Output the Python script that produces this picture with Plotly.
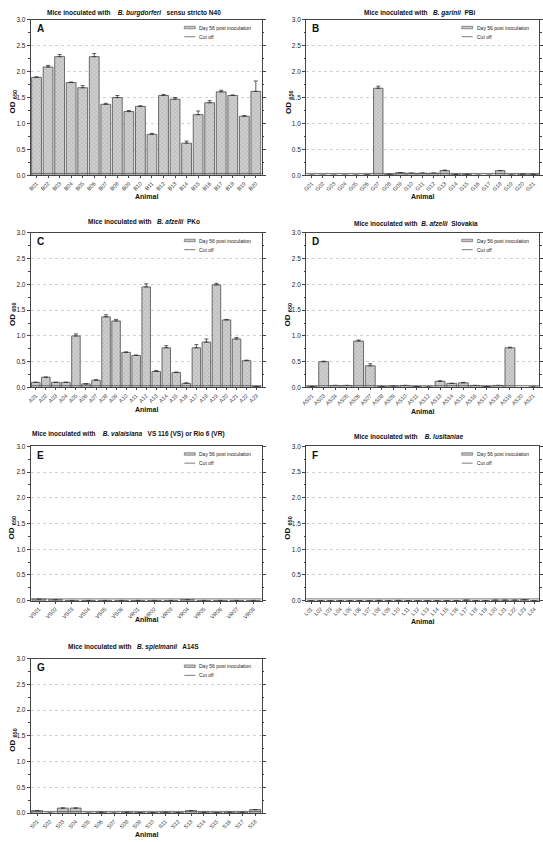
import plotly.graph_objects as go

W, H = 543, 842
FONT = "Arial, Liberation Sans, sans-serif"

# ---------------- data ----------------
labels_A = ["B01","B02","B03","B04","B05","B06","B07","B08","B09","B10",
            "B11","B12","B13","B14","B15","B16","B17","B18","B19","B20"]
values_A = [1.89,2.09,2.29,1.79,1.69,2.29,1.37,1.50,1.23,1.33,
            0.79,1.54,1.47,0.62,1.17,1.40,1.61,1.54,1.14,1.62]
errors_A = [0.01,0.03,0.04,0.01,0.04,0.06,0.02,0.04,0.02,0.01,
            0.02,0.02,0.03,0.04,0.07,0.04,0.03,0.01,0.01,0.20]

labels_B = ["G01","G02","G03","G04","G05","G06","G07","G08","G09","G10","G11",
            "G12","G13","G14","G15","G16","G17","G18","G19","G20","G21"]
values_B = [0.0,0.0,0.0,0.0,0.0,0.005,1.68,0.02,0.05,0.04,0.04,
            0.04,0.09,0.02,0.02,0.0,0.0,0.09,0.005,0.02,0.02]
errors_B = [0,0,0,0,0,0,0.04,0,0,0,0,
            0,0.01,0,0,0,0,0,0,0.01,0]

labels_C = ["A01","A02","A03","A04","A05","A06","A07","A08","A09","A10","A11","A12",
            "A13","A14","A15","A16","A17","A18","A19","A20","A21","A22","A23"]
values_C = [0.10,0.20,0.10,0.10,1.00,0.07,0.14,1.37,1.29,0.68,0.62,1.95,
            0.31,0.77,0.29,0.08,0.77,0.88,1.99,1.31,0.94,0.52,0.02]
errors_C = [0,0,0,0,0.04,0,0.01,0.04,0.03,0.01,0.01,0.06,
            0.02,0.04,0.01,0.01,0.06,0.06,0.03,0.01,0.03,0.01,0]

labels_D = ["AS01","AS03","AS04","AS05","AS06","AS07","AS08","AS09","AS10","AS11",
            "AS12","AS13","AS14","AS15","AS16","AS17","AS18","AS19","AS20","AS21"]
values_D = [0.02,0.50,0.04,0.04,0.90,0.42,0.02,0.03,0.04,0.02,
            0.01,0.12,0.08,0.09,0.04,0.02,0.04,0.77,0.0,0.01]
errors_D = [0,0.01,0,0,0.02,0.04,0,0,0,0,
            0,0.01,0,0.01,0,0,0,0.01,0,0]

labels_E = ["VS01","VS02","VS03","VS04","VS05","VS06","VR01",
            "VR02","VR03","VR04","VR05","VR06","VR07","VR08"]
values_E = [0.03,0.02,0.005,0.005,0.005,0.005,0.005,
            0.005,0.005,0.02,0.005,0.005,0.005,0.005]
errors_E = [0]*14

labels_F = ["L01","L02","L03","L04","L05","L06","L07","L08","L09","L10","L11","L12",
            "L13","L14","L15","L16","L17","L18","L19","L20","L21","L22","L23","L24"]
values_F = [0,0,0,0,0,0,0,0.005,0,0.005,0,0,
            0,0,0,0,0.01,0,0,0.01,0.01,0.01,0.02,0]
errors_F = [0]*24

labels_G = ["S01","S02","S03","S04","S05","S06","S07","S08","S09",
            "S10","S11","S12","S13","S14","S15","S16","S17","S18"]
values_G = [0.05,0.0,0.10,0.10,0.0,0.02,0.0,0.02,0.01,
            0.01,0.02,0.01,0.05,0.02,0.01,0.02,0.02,0.07]
errors_G = [0]*18

cutoffs = [0.035,0.035,0.035,0.035,0.035,0.035,0.035]

titles = [
    "Mice inoculated with&nbsp;&nbsp;&nbsp; <i>B. burgdorferi</i>&nbsp;&nbsp; sensu stricto N40",
    "Mice inoculated with&nbsp;&nbsp; <i>B. garinii</i>&nbsp; PBi",
    "Mice inoculated with&nbsp;&nbsp; <i>B. afzelii</i>&nbsp; PKo",
    "Mice inoculated with&nbsp; <i>B. afzelii</i>&nbsp; Slovakia",
    "Mice inoculated with&nbsp;&nbsp;&nbsp; <i>B. valaisiana</i>&nbsp;&nbsp; VS 116 (VS) or Rio 6 (VR)",
    "Mice inoculated with&nbsp;&nbsp;&nbsp; <i>B. lusitaniae</i>",
    "Mice inoculated with&nbsp;&nbsp; <i>B. spielmanii</i>&nbsp;&nbsp; A14S",
]
letters = ["A","B","C","D","E","F","G"]
legend_bar = "Day 56 post inoculation"
legend_line = "Cut off"

panels = [
    (labels_A, values_A, errors_A),
    (labels_B, values_B, errors_B),
    (labels_C, values_C, errors_C),
    (labels_D, values_D, errors_D),
    (labels_E, values_E, errors_E),
    (labels_F, values_F, errors_F),
    (labels_G, values_G, errors_G),
]

# ---------------- layout geometry (pixels) ----------------
cols = [(26, 259), (304, 539)]
rows = [(16, 172.7), (230.7, 386.7), (446, 601.7), (660, 816)]
boxes = []
for i in range(7):
    r, c = divmod(i, 2)
    boxes.append((cols[c][0], cols[c][1], rows[r][0], rows[r][1]))

title_pos = [(130, 9), (418, 9), (140, 219), (415, 221), (125, 434), (407, 436), (130, 648)]
animal_off = [21, 21, 22, 24, 19, 21, 21]

def px(x):
    return x / W

def py(y):
    return 1 - y / H

fig = go.Figure()
layout = dict(width=W, height=H, margin=dict(l=0, r=0, t=0, b=0),
              paper_bgcolor="white", plot_bgcolor="white",
              showlegend=False, bargap=0.15,
              font=dict(family=FONT, color="#222"))
annotations = []
shapes = []

for i, (labels, vals, errs) in enumerate(panels):
    k = "" if i == 0 else str(i + 1)
    L, R, T, B = boxes[i]
    fig.add_trace(go.Bar(
        x=labels, y=vals,
        xaxis="x" + k, yaxis="y" + k,
        marker=dict(color="#cfcfcf",
                    line=dict(color="#4d4d4d", width=0.8),
                    pattern=dict(shape="x", fgcolor="#808080", size=3, solidity=0.25)),
        error_y=dict(type="data", symmetric=False, array=errs,
                     arrayminus=[0] * len(errs), color="#333", thickness=0.8, width=2),
        name=legend_bar,
    ))
    layout["xaxis" + k] = dict(
        domain=[px(L), px(R)], anchor="y" + k, type="category",
        range=[-0.5, len(labels) - 0.5],
        showline=True, linecolor="#444", linewidth=1, mirror=True,
        ticks="outside", ticklen=2, tickwidth=0.6, tickcolor="#444",
        tickangle=-45, tickfont=dict(size=5.5, family=FONT, color="#333"),
        showgrid=False, zeroline=False,
    )
    layout["yaxis" + k] = dict(
        domain=[py(B), py(T)], anchor="x" + k,
        range=[0, 3.0], dtick=0.5, tick0=0, tickformat=".1f",
        showline=True, linecolor="#444", linewidth=1, mirror="ticks",
        ticks="outside", ticklen=3, tickwidth=0.6, tickcolor="#444",
        tickfont=dict(size=6.5, family=FONT, color="#222"),
        showgrid=True, gridcolor="#d2d2d2", gridwidth=0.5, griddash="dot",
        zeroline=False,
        minor=dict(ticks="outside", ticklen=1.5, tickwidth=0.5, tickcolor="#444", dtick=0.25),
    )
    # cut-off line
    shapes.append(dict(type="line", xref="x" + k + " domain", x0=0, x1=1,
                       yref="y" + k, y0=cutoffs[i], y1=cutoffs[i],
                       line=dict(color="#555", width=0.8)))
    # title
    tx, ty = title_pos[i]
    annotations.append(dict(text="<b>" + titles[i] + "</b>", x=px(tx), y=py(ty),
                            xref="paper", yref="paper", showarrow=False,
                            xanchor="center", yanchor="middle",
                            font=dict(size=6.5, family=FONT, color="#111")))
    # panel letter
    annotations.append(dict(text="<b>" + letters[i] + "</b>", x=px(L + 4), y=py(T + 9),
                            xref="paper", yref="paper", showarrow=False,
                            xanchor="left", yanchor="middle",
                            font=dict(size=10, family=FONT, color="#111")))
    # axis titles
    annotations.append(dict(text="<b>OD <sub>650</sub></b>", x=px(L - 18), y=py((T + B) / 2 + 4),
                            xref="paper", yref="paper", showarrow=False, textangle=-90,
                            xanchor="center", yanchor="middle",
                            font=dict(size=8, family=FONT, color="#111")))
    annotations.append(dict(text="<b>Animal</b>", x=px((L + R) / 2), y=py(B + animal_off[i]),
                            xref="paper", yref="paper", showarrow=False,
                            xanchor="center", yanchor="middle",
                            font=dict(size=7, family=FONT, color="#111")))
    # legend
    shapes.append(dict(type="rect", xref="paper", yref="paper",
                       x0=px(R - 78), x1=px(R - 67), y0=py(T + 9), y1=py(T + 6.5),
                       fillcolor="#c8c8c8", line=dict(color="#555", width=0.6)))
    shapes.append(dict(type="line", xref="paper", yref="paper",
                       x0=px(R - 78), x1=px(R - 67), y0=py(T + 17), y1=py(T + 17),
                       line=dict(color="#444", width=0.7)))
    annotations.append(dict(text=legend_bar, x=px(R - 65), y=py(T + 8),
                            xref="paper", yref="paper", showarrow=False,
                            xanchor="left", yanchor="middle",
                            font=dict(size=5, family=FONT, color="#222")))
    annotations.append(dict(text=legend_line, x=px(R - 65), y=py(T + 17),
                            xref="paper", yref="paper", showarrow=False,
                            xanchor="left", yanchor="middle",
                            font=dict(size=5, family=FONT, color="#222")))

layout["annotations"] = annotations
layout["shapes"] = shapes
fig.update_layout(**layout)
fig.write_html("out.html",
               config={"displayModeBar": False},
               post_script="document.body.style.margin='0';document.body.style.padding='0';")
